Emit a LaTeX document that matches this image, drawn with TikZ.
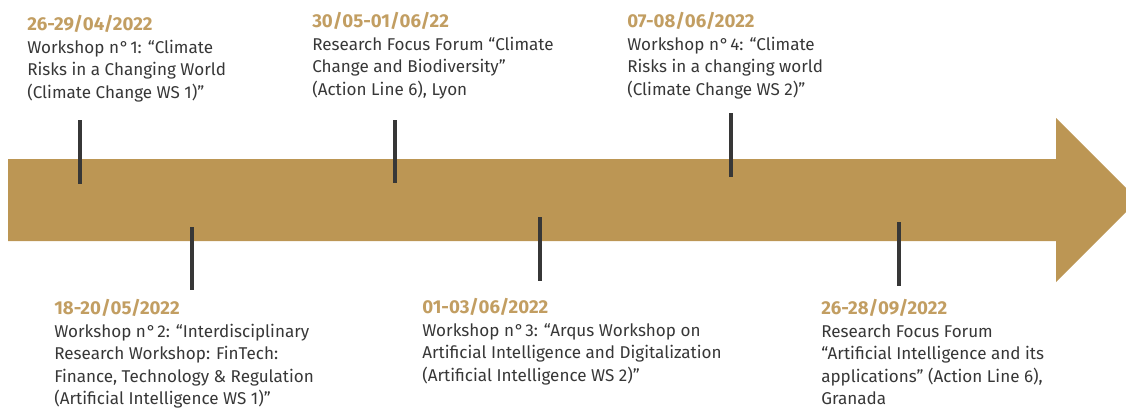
\documentclass[tikz,border=0pt]{standalone}
\usepackage{fontspec}
\setmainfont{Fira Sans}
\definecolor{arrowgold}{RGB}{188,150,84}
\definecolor{dategold}{RGB}{194,158,98}
\definecolor{inkgray}{RGB}{55,55,55}
\tikzset{
  event/.style={anchor=north west, inner sep=0pt, align=left, text=inkgray,
    font=\fontsize{12.8}{16.9}\selectfont},
  tick/.style={draw=inkgray, line width=2.4pt}
}
\newcommand{\evdate}[1]{\textcolor{dategold}{\fontsize{14}{16.9}\selectfont\bfseries #1}}
\newcommand{\wsno}[1]{n\kern0.6pt°\kern1.2pt#1}
\begin{document}
\begin{tikzpicture}[x=0.75pt,y=-0.75pt]
    \useasboundingbox (0,0) rectangle (1126,408);

    % timeline arrow
    \fill[arrowgold] (8,159) -- (1056,159) -- (1056,118) -- (1138,200)
      -- (1056,282) -- (1056,241) -- (8,241) -- cycle;

    % events above the line
    \node (ws1)[event]     at (27,15)  {\evdate{26-29/04/2022}\\Workshop \wsno{1}: “Climate\\Risks in a Changing World\\(Climate Change WS 1)”};
    \node (rffLyon)[event] at (312,12) {\evdate{30/05-01/06/22}\\Research Focus Forum “Climate\\Change and Biodiversity”\\(Action Line 6), Lyon};
    \node (ws4)[event]     at (627,12) {\evdate{07-08/06/2022}\\Workshop \wsno{4}: “Climate\\Risks in a changing world\\(Climate Change WS 2)”};

    % events below the line
    \node (ws2)[event]     at (54,299)  {\evdate{18-20/05/2022}\\Workshop \wsno{2}: “Interdisciplinary\\Research Workshop: FinTech:\\Finance, Technology \& Regulation\\(Artificial Intelligence WS 1)”};
    \node (ws3)[event]     at (422,298) {\evdate{01-03/06/2022}\\Workshop \wsno{3}: “Arqus Workshop on\\Artificial Intelligence and Digitalization\\(Artificial Intelligence WS 2)”};
    \node (rffGranada)[event] at (821,299) {\evdate{26-28/09/2022}\\Research Focus Forum\\“Artificial Intelligence and its\\applications” (Action Line 6),\\Granada};

    % tick ends
    \coordinate (t1a) at (80,120);  \coordinate (t1b) at (80,184);
    \coordinate (t2a) at (192,227); \coordinate (t2b) at (192,290);
    \coordinate (t3a) at (395,120); \coordinate (t3b) at (395,183);
    \coordinate (t4a) at (540,217); \coordinate (t4b) at (540,281);
    \coordinate (t5a) at (731,113); \coordinate (t5b) at (731,177);
    \coordinate (t6a) at (899,222); \coordinate (t6b) at (899,286);

    \foreach \from/\to in {t1a/t1b, t2a/t2b, t3a/t3b, t4a/t4b, t5a/t5b, t6a/t6b}
    \draw[tick] (\from) -- (\to);
\end{tikzpicture}
\end{document}
